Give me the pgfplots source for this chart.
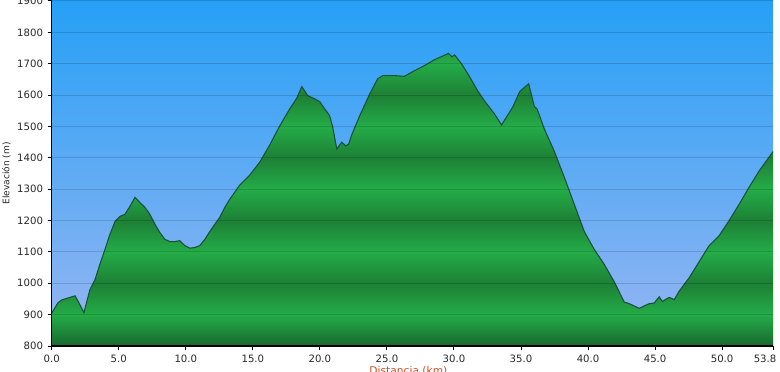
\documentclass[border=0pt]{standalone}
\usepackage{pgfplots}
\usepackage{pgfplotstable}
\pgfplotsset{compat=1.18}
\usepackage{fontspec}
\setmainfont{DejaVu Sans}
\definecolor{skytop}{RGB}{38,160,246}
\definecolor{skybot}{RGB}{152,182,242}
\definecolor{gbase}{RGB}{24,104,46}
\definecolor{gdark}{RGB}{29,128,53}
\definecolor{glight}{RGB}{36,172,72}
\definecolor{outlinec}{RGB}{25,80,60}
\definecolor{labc}{RGB}{40,40,40}
\definecolor{xlabc}{RGB}{205,80,40}
\pgfdeclareverticalshading{bands}{100bp}{color(0bp)=(gbase); color(25bp)=(gbase); color(29.545bp)=(glight); color(34.09bp)=(gdark); color(38.64bp)=(glight); color(43.18bp)=(gdark); color(47.73bp)=(glight); color(52.27bp)=(gdark); color(56.82bp)=(glight); color(61.36bp)=(gdark); color(65.91bp)=(glight); color(70.45bp)=(gdark); color(75bp)=(glight); color(100bp)=(glight)}
\pgfplotstableread{
x y
0 905
0.47 938
0.76 947
1.36 955
1.74 960
2.11 931
2.40 906
2.85 980
3.23 1012
3.59 1060
3.97 1108
4.34 1156
4.72 1197
5.08 1213
5.46 1220
5.83 1245
6.21 1274
6.57 1258
6.95 1242
7.32 1220
7.70 1188
8.06 1162
8.44 1140
8.81 1133
9.19 1133
9.55 1136
9.93 1120
10.30 1112
10.67 1114
11.04 1120
11.42 1140
11.79 1165
12.16 1188
12.53 1210
12.91 1242
13.28 1268
13.65 1290
14.02 1313
14.77 1345
15.51 1386
16.26 1441
17.01 1502
17.75 1556
18.27 1590
18.65 1627
19.10 1598
19.61 1588
19.99 1579
20.36 1556
20.73 1534
20.95 1499
21.26 1428
21.63 1450
21.93 1438
22.15 1444
22.37 1473
22.97 1534
23.72 1604
24.31 1652
24.69 1662
25.57 1662
26.31 1660
27.06 1678
27.80 1694
28.55 1713
29.60 1733
29.85 1722
30.05 1728
30.56 1700
31.16 1659
31.76 1614
32.27 1582
33.02 1540
33.55 1505
34.14 1545
34.40 1563
34.90 1611
35.40 1630
35.57 1636
36.00 1563
36.20 1556
36.74 1492
37.49 1420
38.23 1338
38.97 1252
39.72 1165
40.46 1108
41.21 1060
41.95 1005
42.70 940
43.07 935
43.82 920
44.19 928
44.57 935
44.93 937
45.31 957
45.54 942
45.84 950
46.05 955
46.43 948
46.80 975
47.55 1018
48.29 1069
49.03 1120
49.78 1152
50.52 1200
51.27 1252
52.01 1306
52.76 1358
53.8 1420
}\prof
\begin{document}
\begin{tikzpicture}
\begin{axis}[
  scale only axis, width=541pt, height=258.75pt,
  xmin=0, xmax=53.8, ymin=800, ymax=1900,
  axis background/.style={top color=skytop, bottom color=skybot},
  axis on top,
  axis lines*=left,
  axis line style={black, line width=1pt},
  xtick={0,5,...,50}, extra x ticks={53.8},
  extra x tick style={tick label style={xshift=-6pt}},
  ytick={800,900,...,1900},
  ymajorgrids, grid style={black, opacity=0.14, line width=0.75pt},
  tick align=outside, major tick length=3pt,
  tick style={black, line width=0.75pt},
  /pgf/number format/assume math mode=true,
  tick label style={font=\fontsize{7.6}{9}\selectfont, text=labc},
  x tick label style={/pgf/number format/.cd, fixed, fixed zerofill, precision=1},
  y tick label style={/pgf/number format/.cd, 1000 sep={}},
  xlabel={Distancia (km)},
  xlabel style={at={(axis description cs:0.5,0)}, anchor=north, yshift=-15pt, xshift=-3pt, inner sep=0pt, font=\fontsize{8}{10}\selectfont, text=xlabc},
  ylabel={Elevación (m)},
  every axis y label/.style={at={([xshift=-34pt]axis description cs:0,0.5)}, rotate=90, anchor=center, inner sep=0pt, font=\fontsize{6.8}{8}\selectfont, text=labc},
]
\addplot[draw=none, shading=bands] table {\prof} -- (axis cs:53.8,800) -- (axis cs:0,800) -- (axis cs:0,1900) -- cycle;
\addplot[outlinec, line width=0.8pt] table {\prof};
\end{axis}
\pgfresetboundingbox
\useasboundingbox (-38.8pt,-18.75pt) rectangle (546.2pt,259.5pt);
\end{tikzpicture}
\end{document}
